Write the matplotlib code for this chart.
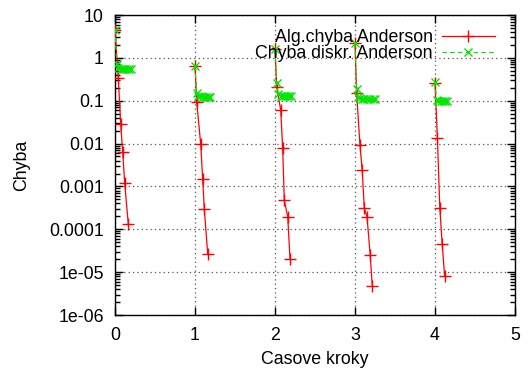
import numpy as np
import matplotlib
matplotlib.use("Agg")
import matplotlib.pyplot as plt

plt.rcParams['font.family'] = ['Liberation Sans', 'DejaVu Sans']

# algebraic error (Anderson), one block per time step
alg_t = [
    [0.0, 0.041, 0.071, 0.096, 0.121, 0.166],
    [1.0, 1.021, 1.071, 1.096, 1.116, 1.159],
    [2.0, 2.021, 2.071, 2.096, 2.116, 2.159, 2.188],
    [3.0, 3.02, 3.062, 3.09, 3.116, 3.15, 3.19, 3.216],
    [4.0, 4.03, 4.06, 4.09, 4.12],
]
alg_err = [
    [4.5, 0.344, 0.0286, 0.0064, 0.00118, 1.33e-4],
    [0.646, 0.095, 0.0098, 0.00147, 3.0e-4, 2.6e-5],
    [1.58, 0.212, 0.061, 0.0078, 4.75e-4, 1.97e-4, 2.0e-5],
    [2.19, 0.154, 0.0093, 0.0024, 3.1e-4, 1.97e-4, 2.5e-5, 4.8e-6],
    [0.263, 0.0133, 3.2e-4, 4.5e-5, 8.3e-6],
]

# discretisation error (Anderson)
disc_t = [
    [0.0, 0.021, 0.041, 0.071, 0.096, 0.121, 0.146, 0.171, 0.2],
    [1.0, 1.021, 1.041, 1.071, 1.096, 1.121, 1.146, 1.171, 1.19],
    [2.0, 2.021, 2.041, 2.071, 2.096, 2.121, 2.146, 2.171, 2.2],
    [3.0, 3.02, 3.04, 3.062, 3.09, 3.116, 3.15, 3.19, 3.22, 3.25],
    [4.0, 4.021, 4.041, 4.071, 4.096, 4.121, 4.15],
]
disc_err = [
    [4.5, 0.72, 0.57, 0.56, 0.55, 0.55, 0.55, 0.55, 0.55],
    [0.646, 0.154, 0.13, 0.126, 0.124, 0.124, 0.124, 0.124, 0.124],
    [1.58, 0.263, 0.14, 0.132, 0.129, 0.129, 0.129, 0.129, 0.129],
    [2.19, 0.188, 0.125, 0.115, 0.112, 0.11, 0.11, 0.11, 0.11, 0.11],
    [0.27, 0.105, 0.099, 0.097, 0.097, 0.097, 0.097],
]

xticks = [0, 1, 2, 3, 4, 5]
yticks = [1e-6, 1e-5, 1e-4, 1e-3, 1e-2, 1e-1, 1, 10]
ytick_labels = ['1e-06', '1e-05', '0.0001', '0.001', '0.01', '0.1', '1', '10']

red = '#ff0000'
green = '#00e600'
fs = 12.8

fig = plt.figure(figsize=(5.30, 3.74), dpi=100)
ax = fig.add_axes([115 / 530, 1 - 315 / 374, 400 / 530, 300 / 374])

for i, (t, e) in enumerate(zip(alg_t, alg_err)):
    ax.plot(t, e, color=red, lw=0.9, marker='+', ms=8, mew=1.0,
            label='Alg.chyba Anderson' if i == 0 else None, zorder=3)
for i, (t, e) in enumerate(zip(disc_t, disc_err)):
    ax.plot(t, e, color=green, lw=0.8, ls=(0, (4, 3)), marker='x', ms=6, mew=1.0,
            label='Chyba diskr. Anderson' if i == 0 else None, zorder=4)

ax.set_yscale('log')
ax.set_xlim(0, 5)
ax.set_ylim(1e-6, 10)
ax.set_xticks(xticks)
ax.set_xticklabels([str(x) for x in xticks], fontsize=fs)
ax.set_yticks(yticks)
ax.set_yticklabels(ytick_labels, fontsize=fs)
ax.yaxis.set_minor_locator(matplotlib.ticker.LogLocator(base=10, subs=np.arange(2, 10)))
ax.yaxis.set_minor_formatter(matplotlib.ticker.NullFormatter())

ax.tick_params(which='both', direction='in', top=True, right=True, color='black')
ax.tick_params(which='major', length=6, width=1)
ax.tick_params(axis='x', which='major', pad=9)
ax.tick_params(axis='y', which='major', pad=8)
ax.tick_params(which='minor', length=3.5, width=1)
ax.grid(True, which='major', color='#555555', ls=(0, (1, 2.5)), lw=0.9)
for s in ax.spines.values():
    s.set_linewidth(1.0)

ax.set_xlabel('Casove kroky', fontsize=fs, labelpad=5)
ax.set_ylabel('Chyba', fontsize=fs, labelpad=14)

leg = ax.legend(loc='upper right', bbox_to_anchor=(0.95, 0.952), frameon=False,
                markerfirst=False, fontsize=fs, borderaxespad=0, borderpad=0,
                labelspacing=-0.08, handlelength=3.0, handletextpad=0.5)

fig.savefig('out.png', dpi=100)
